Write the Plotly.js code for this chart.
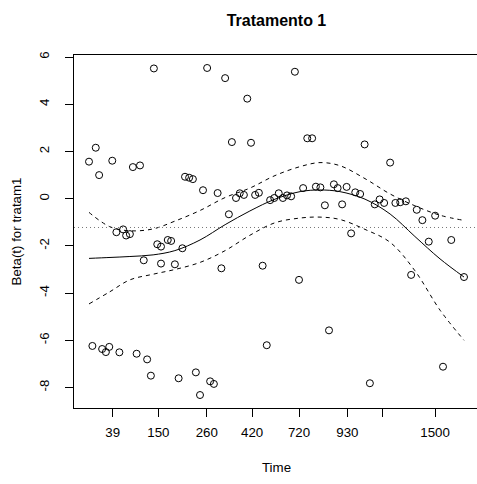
<!DOCTYPE html>
<html>
<head>
<meta charset="utf-8">
<script src="https://cdn.plot.ly/plotly-3.0.1.min.js"></script>
<style>
html, body { margin: 0; padding: 0; overflow: hidden; background: #fff; }
#chart { width: 484px; height: 484px; }
</style>
</head>
<body>
<div id="chart"></div>
<script>
// Transformed time (km scale, 0..1) and scaled Schoenfeld residuals
const residTime = [
  0.000, 0.018, 0.027, 0.062, 0.117, 0.136, 0.173, 0.256, 0.267, 0.277,
  0.304, 0.315, 0.343, 0.363, 0.373, 0.381, 0.392, 0.402, 0.413, 0.422,
  0.432, 0.443, 0.453, 0.073, 0.091, 0.099, 0.109, 0.146, 0.182, 0.192,
  0.192, 0.210, 0.219, 0.229, 0.249, 0.353, 0.463, 0.009, 0.035, 0.045,
  0.054, 0.081, 0.127, 0.155, 0.165, 0.239, 0.285, 0.296, 0.323, 0.333,
  0.474, 0.560, 0.640, 0.699, 0.749, 0.859, 0.889, 0.906, 0.966, 0.944,
  1.000, 0.549, 0.582, 0.595, 0.735, 0.803, 0.483, 0.494, 0.506, 0.517,
  0.528, 0.539, 0.571, 0.605, 0.617, 0.629, 0.653, 0.663, 0.675, 0.687,
  0.710, 0.723, 0.762, 0.775, 0.787, 0.817, 0.830, 0.845, 0.874, 0.923
];
const residBeta = [
  1.57, 2.16, 1.00, 1.61, 1.34, 1.41, 5.52, 0.93, 0.89, 0.83,
  0.36, 5.54, 0.24, 5.11, -0.66, 2.40, 0.03, 0.23, 0.16, 4.24,
  2.37, 0.16, 0.25, -1.42, -1.30, -1.56, -1.50, -2.61, -1.93, -2.03,
  -2.75, -1.75, -1.79, -2.78, -2.10, -2.95, -2.84, -6.24, -6.37, -6.50,
  -6.28, -6.51, -6.57, -6.81, -7.50, -7.61, -7.36, -8.32, -7.74, -7.85,
  -6.21, -3.44, -5.58, -1.47, -7.82, -3.23, -0.91, -1.82, -1.75, -7.12,
  -3.32, 5.38, 2.56, 2.56, 2.30, 1.53, -0.06, 0.03, 0.23, 0.03,
  0.14, 0.10, 0.45, 0.51, 0.48, -0.28, 0.61, 0.45, -0.24, 0.50,
  0.27, 0.20, -0.24, -0.03, -0.18, -0.18, -0.15, -0.11, -0.47, -0.72
];

// Smoothed beta(t) and confidence band
const fitTime  = [0.000, 0.056, 0.109, 0.171, 0.229, 0.296, 0.363, 0.429, 0.496, 0.563, 0.616, 0.669, 0.736, 0.803, 0.869, 0.936, 1.000];
const fitBeta  = [-2.53, -2.49, -2.45, -2.38, -2.20, -1.75, -1.10, -0.52, -0.02, 0.30, 0.37, 0.30, -0.02, -0.65, -1.60, -2.55, -3.32];
const fitUpper = [-0.58, -1.19, -1.36, -1.28, -0.95, -0.50, 0.05, 0.45, 0.98, 1.36, 1.53, 1.40, 0.85, 0.20, -0.30, -0.70, -0.92];
const fitLower = [-4.46, -3.94, -3.44, -3.20, -3.00, -2.70, -2.20, -1.55, -1.02, -0.82, -0.78, -0.88, -1.30, -1.85, -3.05, -4.72, -6.00];

const coefBeta = -1.22;

// Time axis ticks
const timeTickPos    = [0.063, 0.185, 0.314, 0.435, 0.560, 0.689, 0.782, 0.923];
const timeTickLabels = ["39", "150", "260", "420", "720", "930", "", "1500"];
const betaTicks      = [-8, -6, -4, -2, 0, 2, 4, 6];
const betaTickLabels = ["-8", "-6", "-4", "-2", "0", "2", "4", "6"];

const traces = [
  {
    x: residTime, y: residBeta, type: 'scatter', mode: 'markers',
    marker: { symbol: 'circle-open', size: 7, color: '#000', line: { width: 1, color: '#000' } },
    hoverinfo: 'skip'
  },
  {
    x: fitTime, y: fitBeta, type: 'scatter', mode: 'lines',
    line: { color: '#000', width: 1, shape: 'spline' }, hoverinfo: 'skip'
  },
  {
    x: fitTime, y: fitUpper, type: 'scatter', mode: 'lines',
    line: { color: '#000', width: 1, dash: '4px,4px', shape: 'spline' }, hoverinfo: 'skip'
  },
  {
    x: fitTime, y: fitLower, type: 'scatter', mode: 'lines',
    line: { color: '#000', width: 1, dash: '4px,4px', shape: 'spline' }, hoverinfo: 'skip'
  }
];

const layout = {
  width: 484, height: 484,
  margin: { l: 74, r: 5, t: 55, b: 76 },
  paper_bgcolor: '#fff', plot_bgcolor: '#fff',
  showlegend: false,
  font: { family: 'Liberation Sans, Arial, sans-serif', size: 13.3, color: '#000' },
  title: {
    text: '<b>Tratamento 1</b>',
    font: { size: 16, family: 'Liberation Sans, Arial, sans-serif', color: '#000' },
    x: 0.5712, xanchor: 'center', y: 0.957, yanchor: 'middle'
  },
  xaxis: {
    range: [-0.04, 1.04], showgrid: false, zeroline: false,
    showline: true, linecolor: '#000', linewidth: 1, mirror: true,
    ticks: 'outside', ticklen: 8, tickcolor: '#000', tickwidth: 1,
    tickmode: 'array', tickvals: timeTickPos, ticktext: timeTickLabels,
    ticklabelstandoff: 4,
    title: { text: 'Time', standoff: 23, font: { size: 13.3 } }
  },
  yaxis: {
    range: [-8.87, 6.09], showgrid: false, zeroline: false,
    showline: true, linecolor: '#000', linewidth: 1, mirror: true,
    ticks: 'outside', ticklen: 8, tickcolor: '#000', tickwidth: 1,
    tickmode: 'array', tickvals: betaTicks, ticktext: betaTickLabels,
    tickangle: -90, ticklabelstandoff: 11,
    title: { text: 'Beta(t) for tratam1', standoff: 12, font: { size: 13.3 } }
  },
  shapes: [
    {
      type: 'line', xref: 'paper', x0: 0, x1: 1, yref: 'y', y0: coefBeta, y1: coefBeta,
      line: { color: '#777', width: 1, dash: '1px,3px' }
    }
  ]
};

Plotly.newPlot('chart', traces, layout, { staticPlot: true, displayModeBar: false });
</script>
</body>
</html>
